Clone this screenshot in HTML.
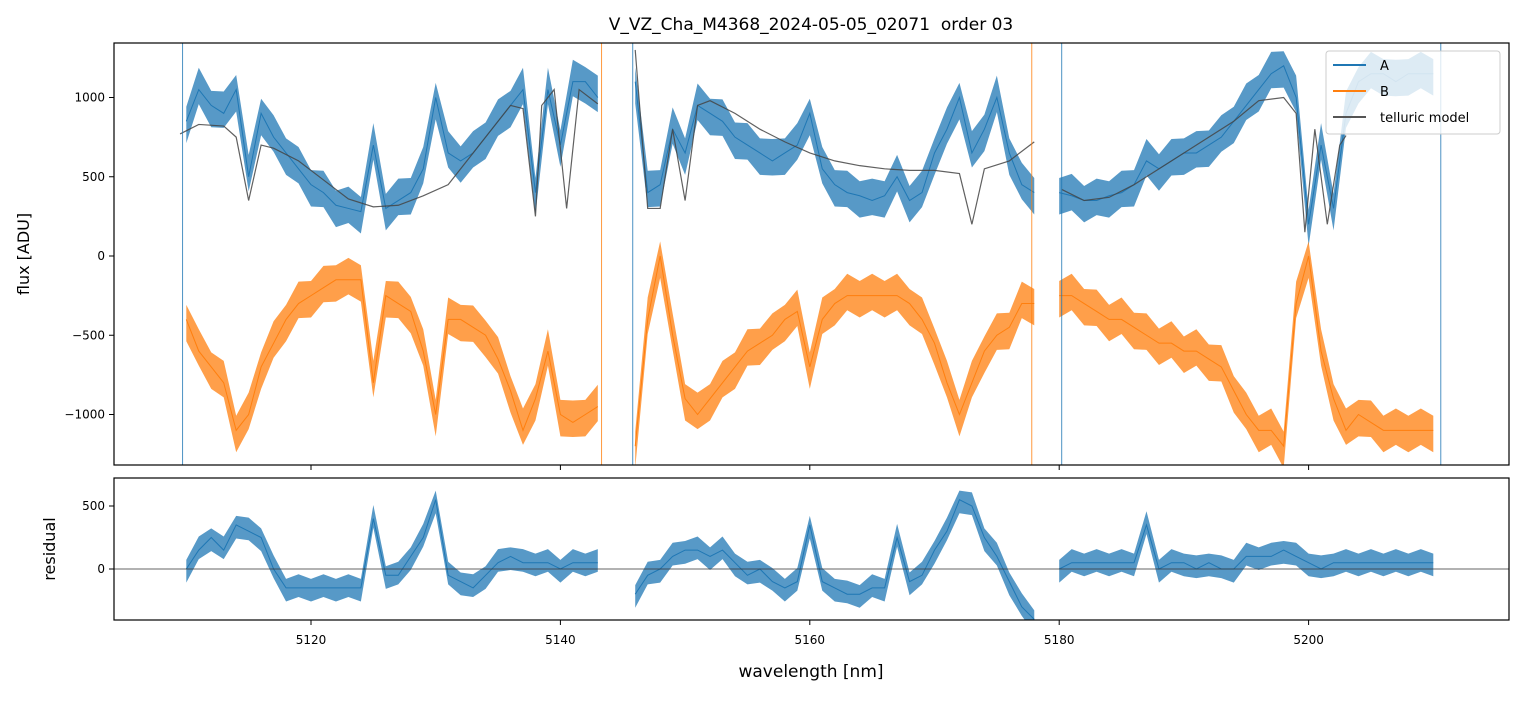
<!DOCTYPE html>
<html><head><meta charset="utf-8"><style>
body{margin:0;background:#fff;}
svg text{font-family:"DejaVu Sans","Liberation Sans",sans-serif;}
</style></head><body>
<svg id="chart" width="1523" height="696" xmlns="http://www.w3.org/2000/svg">
<defs>
<clipPath id="cTop"><rect x="114" y="43" width="1395" height="422"/></clipPath>
<clipPath id="cBot"><rect x="114" y="478" width="1395" height="142"/></clipPath>
</defs>
<rect width="1523" height="696" fill="#fff"/>
<text x="811" y="30" font-size="17" text-anchor="middle">V_VZ_Cha_M4368_2024-05-05_02071&#160; order 03</text>
<text transform="translate(29,254) rotate(-90)" font-size="16" text-anchor="middle">flux [ADU]</text>
<text transform="translate(55,549) rotate(-90)" font-size="16" text-anchor="middle">residual</text>
<text x="811" y="677" font-size="17" text-anchor="middle">wavelength [nm]</text>
<g id="topMarks" clip-path="url(#cTop)"></g>
<g id="botMarks" clip-path="url(#cBot)"></g>
<g id="axes"></g>
<g>
<rect x="1326" y="51" width="174" height="83" rx="3" fill="#fff" fill-opacity="0.8" stroke="#ccc"/>
<line x1="1333" y1="65" x2="1366" y2="65" stroke="#1f77b4" stroke-width="2"/>
<text x="1380" y="70" font-size="13">A</text>
<line x1="1333" y1="91" x2="1366" y2="91" stroke="#ff7f0e" stroke-width="2"/>
<text x="1380" y="96" font-size="13">B</text>
<line x1="1333" y1="117" x2="1366" y2="117" stroke="#555" stroke-width="2"/>
<text x="1380" y="122" font-size="13">telluric model</text>
</g>
</svg>
<script>
const segStart=[5110,5146,5180];
const aSeg1=[850,1050,950,900,1050,500,900,750,650,550,450,400,320,300,280,700,300,350,400,550,1000,650,600,650,750,850,950,1050,400,1050,700,1100,1100,1000];
const aSeg2=[1100,400,450,800,650,950,900,850,750,700,650,600,650,700,900,550,450,400,380,350,380,500,350,400,650,800,1000,650,800,1000,650,450,400];
const aSeg3=[400,380,350,350,380,400,450,600,550,600,650,650,700,750,850,950,1050,1150,1200,1000,200,700,300,900,1100,1150,1150,1100,1150,1150,1150];
const bSeg1=[-400,-600,-700,-800,-1100,-1000,-700,-550,-400,-300,-250,-200,-150,-150,-150,-800,-250,-300,-350,-600,-1000,-400,-400,-450,-500,-650,-850,-1100,-900,-600,-1000,-1050,-1000,-950];
const bSeg2=[-1200,-400,0,-500,-900,-1000,-900,-800,-700,-600,-550,-500,-400,-350,-700,-400,-300,-250,-250,-250,-250,-250,-300,-400,-550,-800,-1000,-800,-600,-500,-450,-300,-300];
const bSeg3=[-250,-250,-300,-350,-400,-400,-450,-500,-550,-550,-600,-600,-650,-700,-850,-1000,-1100,-1100,-1200,-300,0,-600,-900,-1100,-1000,-1050,-1100,-1100,-1100,-1100,-1100];
const tWave1=[5109.5,5111,5113,5114,5115,5116,5117,5119,5121,5123,5125,5127,5129,5131,5133,5135,5136,5137,5138,5138.5,5139.5,5140.5,5141.5,5143];
const tVal1=[770,830,820,750,350,700,680,600,480,360,310,320,380,450,650,850,950,930,250,950,1050,300,1050,960];
const tWave2=[5146,5147,5148,5149,5150,5151,5152,5154,5156,5158,5160,5162,5164,5166,5168,5170,5172,5173,5174,5176,5178];
const tVal2=[1300,300,300,800,350,950,980,900,800,720,650,600,570,550,540,540,520,200,550,600,720];
const tWave3=[5180.2,5182,5184,5186,5188,5190,5192,5194,5196,5198,5199,5199.7,5200.5,5201.5,5202.5,5203];
const tVal3=[420,350,370,450,550,650,750,850,980,1000,900,150,800,200,700,760];
const rSeg1=[0,150,250,150,350,300,250,0,-150,-150,-150,-150,-150,-150,-150,400,-50,-50,100,250,550,-50,-100,-150,-50,50,100,50,50,50,0,50,50,50];
const rSeg2=[-200,-50,0,100,150,150,100,150,50,-50,0,-100,-150,-100,350,-100,-150,-200,-200,-150,-150,250,-100,-50,150,300,550,500,250,100,-100,-300,-400];
const rSeg3=[0,50,50,50,50,50,50,350,0,50,50,0,50,0,0,100,100,100,150,100,50,0,50,50,50,50,50,50,50,50,50];
const xTicks=[5120,5140,5160,5180,5200];
const yTicksTop=[1000,500,0,-500,-1000];
const yTicksBot=[500,0];

const NS="http://www.w3.org/2000/svg";
const X=w=>311+(w-5120)*12.47;
const YT=v=>256-v*0.1585;
const YB=v=>569-v*0.126;
const gTop=document.getElementById('topMarks'),gBot=document.getElementById('botMarks'),gAx=document.getElementById('axes');
function mk(tag,attrs,parent){const e=document.createElementNS(NS,tag);for(const k in attrs)e.setAttribute(k,attrs[k]);parent.appendChild(e);return e;}
function band(vals,start,yf,hw,fill,parent,name){
  let up=[],lo=[];
  vals.forEach((v,i)=>{const jag=(i%2?1:-1)*hw*0.2;up.push(X(start+i)+','+yf(v+hw+jag));lo.unshift(X(start+i)+','+yf(v-hw+jag));});
  const p=mk('polygon',{points:up.concat(lo).join(' '),fill:fill,'fill-opacity':0.75},parent);
  
  
  let c=vals.map((v,i)=>X(start+i)+','+yf(v)).join(' ');
  mk('polyline',{points:c,fill:'none',stroke:fill,'stroke-width':1},parent);
}
band(aSeg1,segStart[0],YT,115,'#1f77b4',gTop,'series-a-seg1');
band(aSeg2,segStart[1],YT,115,'#1f77b4',gTop,'series-a-seg2');
band(aSeg3,segStart[2],YT,115,'#1f77b4',gTop,'series-a-seg3');
band(bSeg1,segStart[0],YT,115,'#ff7f0e',gTop,'series-b-seg1');
band(bSeg2,segStart[1],YT,115,'#ff7f0e',gTop,'series-b-seg2');
band(bSeg3,segStart[2],YT,115,'#ff7f0e',gTop,'series-b-seg3');
[[tWave1,tVal1],[tWave2,tVal2],[tWave3,tVal3]].forEach((s,k)=>{
  const l=mk('polyline',{points:s[0].map((w,i)=>X(w)+','+YT(s[1][i])).join(' '),fill:'none',stroke:'#444','stroke-width':1.2,'stroke-opacity':0.85},gTop);
  
  
});
band(rSeg1,segStart[0],YB,90,'#1f77b4',gBot,'residual-seg1');
band(rSeg2,segStart[1],YB,90,'#1f77b4',gBot,'residual-seg2');
band(rSeg3,segStart[2],YB,90,'#1f77b4',gBot,'residual-seg3');
const zl=mk('line',{x1:114,x2:1509,y1:YB(0),y2:YB(0),stroke:'#333','stroke-width':0.8},gBot);


[[5109.7,'#1f77b4'],[5143.3,'#ff7f0e'],[5145.8,'#1f77b4'],[5177.8,'#ff7f0e'],[5180.2,'#1f77b4'],[5210.6,'#1f77b4']].forEach(s=>{
  mk('line',{x1:X(s[0]),x2:X(s[0]),y1:43,y2:465,stroke:s[1],'stroke-width':1,'stroke-opacity':0.8},gTop);
});
const f1=mk('rect',{x:114,y:43,width:1395,height:422,fill:'none',stroke:'#000','stroke-width':1.2},gAx);


const f2=mk('rect',{x:114,y:478,width:1395,height:142,fill:'none',stroke:'#000','stroke-width':1.2},gAx);


xTicks.forEach(t=>{
  mk('line',{x1:X(t),x2:X(t),y1:465,y2:470,stroke:'#000'},gAx);
  mk('line',{x1:X(t),x2:X(t),y1:620,y2:625,stroke:'#000'},gAx);
  const tx=mk('text',{x:X(t),y:644,'font-size':12,'text-anchor':'middle'},gAx);
  tx.textContent=t;
  
  
});
yTicksTop.forEach(t=>{
  mk('line',{x1:109,x2:114,y1:YT(t),y2:YT(t),stroke:'#000'},gAx);
  const tx=mk('text',{x:105,y:YT(t)+4,'font-size':12,'text-anchor':'end'},gAx);
  tx.textContent=t<0?'\u2212'+(-t):t;
  
  
});
yTicksBot.forEach(t=>{
  mk('line',{x1:109,x2:114,y1:YB(t),y2:YB(t),stroke:'#000'},gAx);
  const tx=mk('text',{x:105,y:YB(t)+4,'font-size':12,'text-anchor':'end'},gAx);
  tx.textContent=t;
  
  
});
</script>
</body></html>
